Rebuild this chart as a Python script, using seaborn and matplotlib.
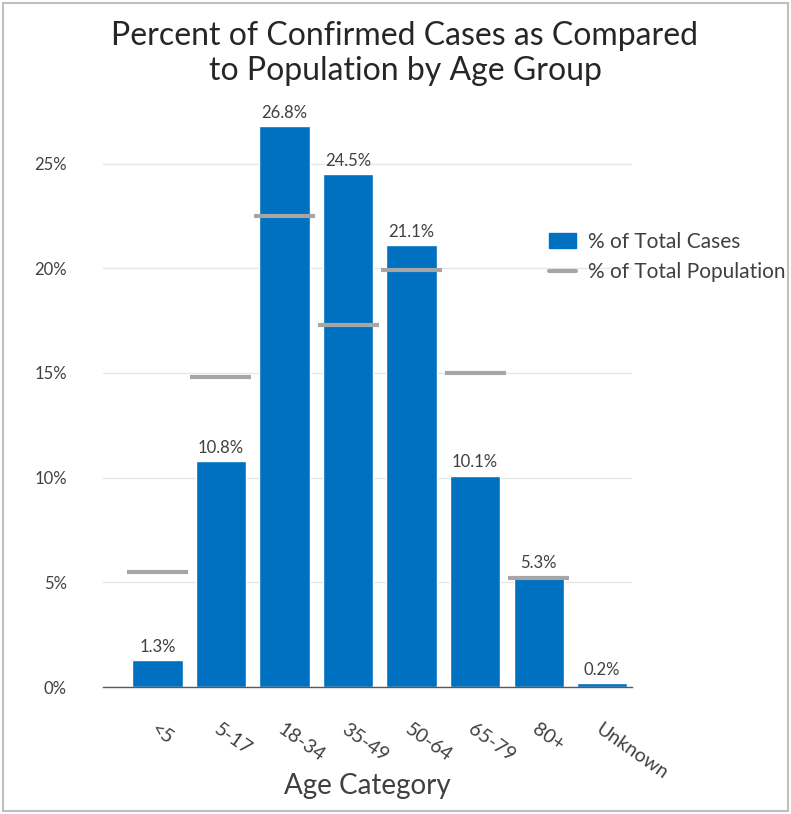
import numpy as np
import pandas as pd
import matplotlib
matplotlib.use("Agg")
import matplotlib.pyplot as plt
import seaborn as sns
from matplotlib.patches import Patch, Rectangle
from matplotlib.lines import Line2D

# Data
age_groups = ["<5", "5-17", "18-34", "35-49", "50-64", "65-79", "80+", "Unknown"]
pct_cases = [1.3, 10.8, 26.8, 24.5, 21.1, 10.1, 5.3, 0.2]
pct_population = [5.5, 14.8, 22.5, 17.3, 19.9, 15.0, 5.2, np.nan]
y_ticks = [0, 5, 10, 15, 20, 25]

df = pd.DataFrame({"Age": age_groups, "Cases": pct_cases, "Population": pct_population})

sns.set_theme(style="white")
plt.rcParams["font.family"] = ["Lato", "DejaVu Sans"]

bar_color = "#0070C0"
pop_color = "#A6A6A6"
text_color = "#404040"

fig = plt.figure(figsize=(7.91, 8.14), dpi=100)
ax = fig.add_axes([0.130, 0.156, 0.669, 0.697])

sns.barplot(data=df, x="Age", y="Cases", color=bar_color, width=0.79,
            saturation=1, ax=ax, zorder=2)

# population markers as short horizontal lines over each bar
pos = np.arange(len(age_groups))
ax.hlines(df["Population"], pos - 0.48, pos + 0.48, color=pop_color,
          linewidth=3, zorder=3)

# value labels
for p, v in zip(pos, pct_cases):
    ax.text(p, v + 0.25, f"{v}%", ha="center", va="bottom",
            fontsize=12, color=text_color)

ax.set_xlim(-0.86, 7.47)
ax.set_ylim(0, 27.1)
ax.set_yticks(y_ticks)
ax.set_yticklabels([f"{t}%" for t in y_ticks], fontsize=12, color=text_color)
ax.yaxis.grid(True, color="#E6E6E6", linewidth=1, zorder=0)
ax.set_axisbelow(True)

ax.set_xticks(pos)
ax.set_xticklabels(age_groups, rotation=-35, ha="left", rotation_mode="anchor",
                   fontsize=14, color=text_color)
ax.tick_params(axis="x", length=0, pad=24)
ax.tick_params(axis="y", length=0, pad=26)

for s in ["top", "right", "left"]:
    ax.spines[s].set_visible(False)
ax.spines["bottom"].set_color("#595959")
ax.spines["bottom"].set_linewidth(1)

ax.set_ylabel("")
ax.set_xlabel("Age Category", fontsize=20, color=text_color)
ax.xaxis.set_label_coords(0.5, -0.152)

fig.text(0.512, 0.974, "Percent of Confirmed Cases as Compared\nto Population by Age Group",
         ha="center", va="top", fontsize=23, color="#262626", linespacing=1.2)

handles = [Patch(facecolor=bar_color, edgecolor=bar_color),
           Line2D([0], [0], color=pop_color, linewidth=3)]
fig.legend(handles, ["% of Total Cases", "% of Total Population"],
           loc="upper left", bbox_to_anchor=(0.67, 0.738), frameon=False,
           fontsize=15, labelcolor=text_color, handlelength=1.3,
           handletextpad=0.6, labelspacing=0.5)

fig.patches.append(Rectangle((0.004, 0.004), 0.992, 0.992, transform=fig.transFigure,
                             fill=False, edgecolor="#BFBFBF", linewidth=1.5))

fig.savefig("out.png", dpi=100)
